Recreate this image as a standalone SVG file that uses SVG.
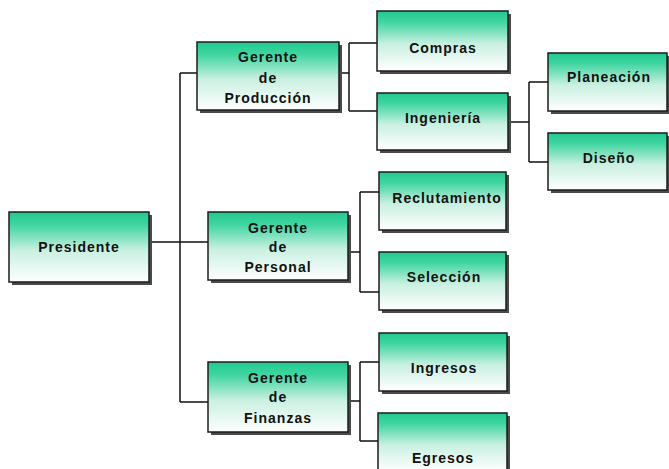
<svg xmlns="http://www.w3.org/2000/svg" width="669" height="469" viewBox="0 0 669 469">
  <defs>
    <linearGradient id="g" x1="0" y1="0" x2="0" y2="1">
      <stop offset="0" stop-color="#22c98e"/>
      <stop offset="0.18" stop-color="#3fd5a0"/>
      <stop offset="0.55" stop-color="#c9f0e1"/>
      <stop offset="1" stop-color="#ffffff"/>
    </linearGradient>
  </defs>
  <style>
    .shadow { fill: #4a4a4a; }
    .box { fill: url(#g); stroke: #1c1c1c; stroke-width: 1.5; }
    .inner { fill: none; stroke: #d8d8d8; stroke-width: 1; }
    .lbl { font-family: "Liberation Sans", Arial, sans-serif; font-weight: bold; font-size: 14px; letter-spacing: 1px; fill: #111; text-anchor: middle; }
    .conn { fill: none; stroke: #111; stroke-width: 1.5; }
  </style>
  <rect width="669" height="469" fill="#ffffff"/>

  <g id="connectors">
    <path class="conn" d="M149,242 H180 M180,73 V402 M180,73 H197 M180,242 H208 M180,402 H208"/>
    <path class="conn" d="M339,73 H349 M349,43 V111 M349,43 H377 M349,111 H377"/>
    <path class="conn" d="M508,122 H529 M529,82 V162 M529,82 H548 M529,162 H548"/>
    <path class="conn" d="M348,252 H360 M360,192 V292 M360,192 H379 M360,292 H379"/>
    <path class="conn" d="M348,401 H360 M360,362 V441 M360,362 H379 M360,441 H378"/>
  </g>

  <g id="presidente">
    <rect class="shadow" x="12" y="215" width="140" height="70"/>
    <rect class="box" x="9" y="212" width="140" height="70"/>
    <text class="lbl" x="79" y="252">Presidente</text>
  </g>
  <g id="gerente-produccion">
    <rect class="shadow" x="200" y="45" width="142" height="68"/>
    <rect class="box" x="197" y="42" width="142" height="68"/>
    <text class="lbl" x="268" y="62">Gerente</text>
    <text class="lbl" x="268" y="83">de</text>
    <text class="lbl" x="268" y="103">Producción</text>
  </g>
  <g id="gerente-personal">
    <rect class="shadow" x="211" y="215" width="140" height="68"/>
    <rect class="box" x="208" y="212" width="140" height="68"/>
    <text class="lbl" x="278" y="233">Gerente</text>
    <text class="lbl" x="278" y="252">de</text>
    <text class="lbl" x="278" y="272">Personal</text>
  </g>
  <g id="gerente-finanzas">
    <rect class="shadow" x="211" y="365" width="140" height="70"/>
    <rect class="box" x="208" y="362" width="140" height="70"/>
    <text class="lbl" x="278" y="383">Gerente</text>
    <text class="lbl" x="278" y="402">de</text>
    <text class="lbl" x="278" y="423">Finanzas</text>
  </g>
  <g id="compras">
    <rect class="shadow" x="380" y="14" width="131" height="60"/>
    <rect class="box" x="377" y="11" width="131" height="60"/>
    <text class="lbl" x="443" y="53">Compras</text>
  </g>
  <g id="ingenieria">
    <rect class="shadow" x="380" y="96" width="131" height="57"/>
    <rect class="box" x="377" y="93" width="131" height="57"/>
    <text class="lbl" x="443" y="123">Ingeniería</text>
  </g>
  <g id="planeacion">
    <rect class="shadow" x="551" y="56" width="118" height="58"/>
    <rect class="box" x="548" y="53" width="119" height="58"/>
    <text class="lbl" x="609" y="82">Planeación</text>
  </g>
  <g id="diseno">
    <rect class="shadow" x="551" y="136" width="118" height="57"/>
    <rect class="box" x="548" y="133" width="119" height="57"/>
    <text class="lbl" x="609" y="163">Diseño</text>
  </g>
  <g id="reclutamiento">
    <rect class="shadow" x="382" y="175" width="127" height="58"/>
    <rect class="box" x="379" y="172" width="127" height="58"/>
    <text class="lbl" x="447" y="203">Reclutamiento</text>
  </g>
  <g id="seleccion">
    <rect class="shadow" x="382" y="255" width="127" height="58"/>
    <rect class="box" x="379" y="252" width="127" height="58"/>
    <text class="lbl" x="444" y="282">Selección</text>
  </g>
  <g id="ingresos">
    <rect class="shadow" x="382" y="336" width="128" height="58"/>
    <rect class="box" x="379" y="333" width="128" height="58"/>
    <text class="lbl" x="444" y="373">Ingresos</text>
  </g>
  <g id="egresos">
    <rect class="shadow" x="381" y="416" width="129" height="58"/>
    <rect class="box" x="378" y="413" width="129" height="58"/>
    <text class="lbl" x="443" y="463">Egresos</text>
  </g>
</svg>
